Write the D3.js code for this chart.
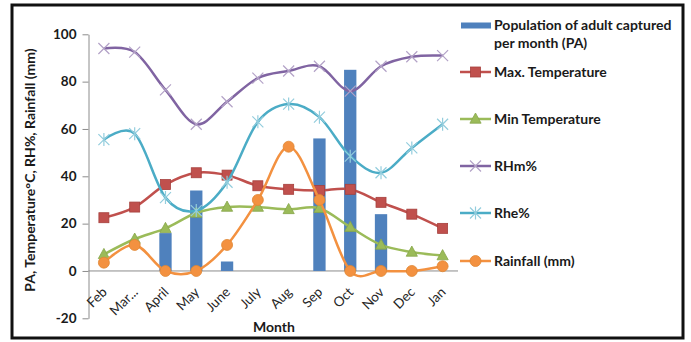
<!DOCTYPE html>
<html>
<head>
<meta charset="utf-8">
<script src="https://cdn.jsdelivr.net/npm/d3@7"></script>
<style>
  html, body { margin: 0; padding: 0; background: #fff; }
  svg { display: block; font-family: Lato, "Open Sans", sans-serif; }
</style>
</head>
<body>
<svg id="chart" width="691" height="342"></svg>
<script>
// Monthly data
const months = ["Feb", "Mar...", "April", "May", "June", "July", "Aug", "Sep", "Oct", "Nov", "Dec", "Jan"];
const popAdult = [0, 0, 16, 34, 4, 0, 0, 56, 85, 24, 0, 0];
const maxTemp  = [22.5, 27, 36.5, 41.5, 40.5, 36, 34.5, 34, 34.5, 29, 24, 18];
const minTemp  = [7, 13.5, 18, 24.5, 27, 27, 26, 26.5, 18.5, 11, 8, 6.5];
const rhm      = [94, 92.5, 76.5, 62, 71.5, 81.5, 84.5, 86.5, 76, 86.5, 90.5, 91];
const rhe      = [55.5, 58, 31, 25.5, 37.5, 63, 70.5, 65, 48.5, 41.5, 52, 62];
const rain     = [3.5, 11, 0, 0, 11, 30, 52.5, 30, 0, 0, 0, 2];
const yTicks   = [-20, 0, 20, 40, 60, 80, 100];

const svg = d3.select("#chart");

// outer frame
svg.append("rect")
  .attr("x", 12).attr("y", 5).attr("width", 671).attr("height", 333)
  .attr("fill", "none").attr("stroke", "#111").attr("stroke-width", 3);

const x = d3.scaleBand().domain(months).range([88.5, 458]).paddingInner(0).paddingOuter(0);
const y = d3.scaleLinear().domain([-20, 100]).range([318.3, 34.3]);
const cx = m => x(m) + x.bandwidth() / 2;

// y axis
const yAxis = svg.append("g").attr("transform", `translate(${x.range()[0]},0)`)
  .call(d3.axisLeft(y).tickValues(yTicks).tickFormat(d => String(d))
    .tickSize(6).tickPadding(6).tickSizeOuter(0));
yAxis.select(".domain").attr("stroke", "#8c8c8c");
yAxis.selectAll(".tick line").attr("stroke", "#8c8c8c");
yAxis.selectAll(".tick text")
  .attr("font-family", "Lato, sans-serif").attr("font-size", 13.5).attr("font-weight", "bold")
  .attr("fill", "#1a1a1a");

// category axis sits on the zero line
svg.append("line")
  .attr("x1", x.range()[0]).attr("x2", x.range()[1])
  .attr("y1", y(0)).attr("y2", y(0))
  .attr("stroke", "#8c8c8c").attr("stroke-width", 1);

svg.append("g").selectAll("text").data(months).join("text")
  .attr("transform", d => `translate(${cx(d) + 4},${y(0) + 22}) rotate(-45)`)
  .attr("text-anchor", "end")
  .attr("font-size", 13.5)
  .attr("fill", "#262626")
  .text(d => d);

// axis titles
svg.append("text")
  .attr("transform", `translate(35,170) rotate(-90)`)
  .attr("text-anchor", "middle")
  .attr("font-size", 14).attr("font-weight", "bold").attr("fill", "#1a1a1a")
  .text("PA, Temperature°C, RH%, Rainfall (mm)");

svg.append("text")
  .attr("x", 274).attr("y", 332)
  .attr("text-anchor", "middle")
  .attr("font-size", 14).attr("font-weight", "bold").attr("fill", "#1a1a1a")
  .text("Month");

// bars
const barW = x.bandwidth() / 2.5;
svg.append("g").selectAll("rect").data(months.map((m, i) => ({ m, v: popAdult[i] })).filter(d => d.v > 0))
  .join("rect")
  .attr("x", d => cx(d.m) - barW / 2)
  .attr("width", barW)
  .attr("y", d => y(d.v))
  .attr("height", d => y(0) - y(d.v))
  .attr("fill", "#4F81BD");

// marker painters
const markers = {
  square: (g, c) => g.append("rect").attr("x", -5).attr("y", -5).attr("width", 10).attr("height", 10)
      .attr("fill", c.fill).attr("stroke", c.stroke).attr("stroke-width", 0.8),
  triangle: (g, c) => g.append("path").attr("d", "M0,-6L5.6,4.2L-5.6,4.2Z")
      .attr("fill", c.fill).attr("stroke", c.stroke).attr("stroke-width", 0.8),
  circle: (g, c) => g.append("circle").attr("r", 5.5)
      .attr("fill", c.fill).attr("stroke", c.stroke).attr("stroke-width", 0.8),
  cross: (g, c) => g.append("path").attr("d", "M-5.5,-5.5L5.5,5.5M-5.5,5.5L5.5,-5.5")
      .attr("fill", "none").attr("stroke", c.fill).attr("stroke-width", 1.2),
  star: (g, c) => g.append("path").attr("d", "M-5.5,-5.5L5.5,5.5M-5.5,5.5L5.5,-5.5M0,-6.5L0,6.5")
      .attr("fill", "none").attr("stroke", c.fill).attr("stroke-width", 1.2)
};

const series = [
  { name: "Max. Temperature", values: maxTemp, color: "#C0504D", marker: "square", mfill: "#C0504D", mstroke: "#A6403D" },
  { name: "Min Temperature",  values: minTemp, color: "#9BBB59", marker: "triangle", mfill: "#9BBB59", mstroke: "#86A64A" },
  { name: "RHm%",             values: rhm,     color: "#8064A2", marker: "cross", mfill: "#B3A2C7" },
  { name: "Rhe%",             values: rhe,     color: "#4BACC6", marker: "star",  mfill: "#93CDDD" },
  { name: "Rainfall (mm)",    values: rain,    color: "#F39140", marker: "circle", mfill: "#F39140", mstroke: "#E08632" }
];

// smoothed lines (cardinal with zero tension)
const line = d3.line().x(d => cx(d.m)).y(d => y(d.v)).curve(d3.curveCardinal.tension(0));

series.forEach(s => {
  const pts = months.map((m, i) => ({ m, v: s.values[i] }));
  const g = svg.append("g");
  g.append("path").datum(pts).attr("d", line)
    .attr("fill", "none").attr("stroke", s.color).attr("stroke-width", 2.5);
  pts.forEach(p => {
    const mg = g.append("g").attr("transform", `translate(${cx(p.m)},${y(p.v)})`);
    markers[s.marker](mg, { fill: s.mfill, stroke: s.mstroke });
  });
});

// legend
const lg = svg.append("g").attr("font-size", 14).attr("font-weight", "bold").attr("fill", "#1a1a1a");
lg.append("rect").attr("x", 461).attr("y", 22.5).attr("width", 30).attr("height", 6).attr("fill", "#4F81BD");
lg.append("text").attr("x", 494).attr("y", 30).text("Population of adult captured");
lg.append("text").attr("x", 494).attr("y", 48).text("per month (PA)");

const legendY = [72, 119, 166, 213, 261];
series.forEach((s, i) => {
  const ly = legendY[i];
  lg.append("line").attr("x1", 460).attr("x2", 491).attr("y1", ly).attr("y2", ly)
    .attr("stroke", s.color).attr("stroke-width", 2.5);
  const mg = lg.append("g").attr("transform", `translate(475.5,${ly})`);
  markers[s.marker](mg, { fill: s.mfill, stroke: s.mstroke });
  lg.append("text").attr("x", 494).attr("y", ly + 5).text(s.name);
});
</script>
</body>
</html>
